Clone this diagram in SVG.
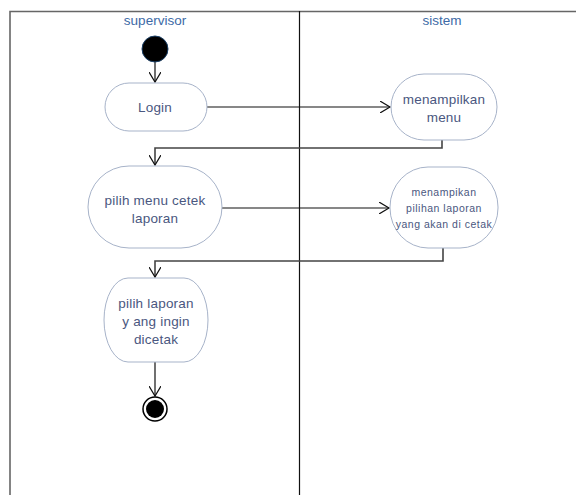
<svg xmlns="http://www.w3.org/2000/svg" width="576" height="495" viewBox="0 0 576 495">
<style>
.lane{font-family:"Liberation Sans",Arial,sans-serif;font-size:13.5px;fill:#3d6aa6;text-anchor:middle}
.t{font-family:"Liberation Sans",Arial,sans-serif;font-size:13.5px;letter-spacing:0.2px;fill:#4a5780;text-anchor:middle}
.ts{font-family:"Liberation Sans",Arial,sans-serif;font-size:10.5px;letter-spacing:0.5px;fill:#4a5780;text-anchor:middle}
.act{fill:#fff;stroke:#a7b3c9;stroke-width:1}
.c{fill:none;stroke:#111;stroke-width:1.2}
.c2{fill:none;stroke:#444;stroke-width:1.6}
</style>
<defs>
<marker id="ah" markerWidth="12" markerHeight="12" refX="10" refY="6" orient="auto" markerUnits="userSpaceOnUse">
<path d="M0,0 L10,6 L0,12" fill="none" stroke="#111" stroke-width="1.2"/>
</marker>
</defs>
<rect width="576" height="495" fill="#fff"/>
<g id="frame">
<path d="M10,495 V11.5 H576" fill="none" stroke="#666" stroke-width="1.6"/>
<line x1="299.5" y1="11" x2="299.5" y2="495" stroke="#111" stroke-width="1.2"/>
<text class="lane" x="155" y="25">supervisor</text>
<text class="lane" x="442" y="25">sistem</text>
</g>
<g id="connectors">
<line class="c" x1="155" y1="62" x2="155" y2="82" marker-end="url(#ah)"/>
<line class="c" x1="207" y1="107" x2="390" y2="107" marker-end="url(#ah)"/>
<path class="c2" d="M442,140 V148 H155 V165" marker-end="url(#ah)"/>
<line class="c" x1="222" y1="208" x2="389" y2="208" marker-end="url(#ah)"/>
<path class="c2" d="M443,248 V261 H155 V277" marker-end="url(#ah)"/>
<line class="c" x1="155" y1="362" x2="155" y2="396" marker-end="url(#ah)"/>
</g>
<g id="start">
<circle cx="155" cy="49" r="13" fill="#000" stroke="#1a3f66" stroke-width="1"/>
</g>
<g id="login">
<rect class="act" x="105" y="83" width="102" height="48" rx="24" ry="24"/>
<text class="t" x="155" y="112">Login</text>
</g>
<g id="menampilkan-menu">
<rect class="act" x="391" y="74" width="106" height="66" rx="33" ry="33"/>
<text class="t" x="444" y="104">menampilkan</text>
<text class="t" x="444" y="122">menu</text>
</g>
<g id="pilih-menu">
<rect class="act" x="88" y="166" width="134" height="82" rx="41" ry="41"/>
<text class="t" x="155" y="205">pilih menu cetek</text>
<text class="t" x="155" y="223">laporan</text>
</g>
<g id="menampilkan-pilihan">
<rect class="act" x="390" y="167" width="108" height="81" rx="38" ry="40"/>
<text class="ts" x="444" y="196">menampikan</text>
<text class="ts" x="444" y="212">pilihan laporan</text>
<text class="ts" x="444" y="228">yang akan di cetak</text>
</g>
<g id="pilih-laporan">
<rect class="act" x="104" y="278" width="104" height="84" rx="24" ry="42"/>
<text class="t" x="156" y="308">pilih laporan</text>
<text class="t" x="156" y="326">y ang ingin</text>
<text class="t" x="156" y="344">dicetak</text>
</g>
<g id="end">
<circle cx="155" cy="409" r="12" fill="#fff" stroke="#000" stroke-width="1.5"/>
<circle cx="155" cy="409" r="9" fill="#000"/>
</g>
</svg>
